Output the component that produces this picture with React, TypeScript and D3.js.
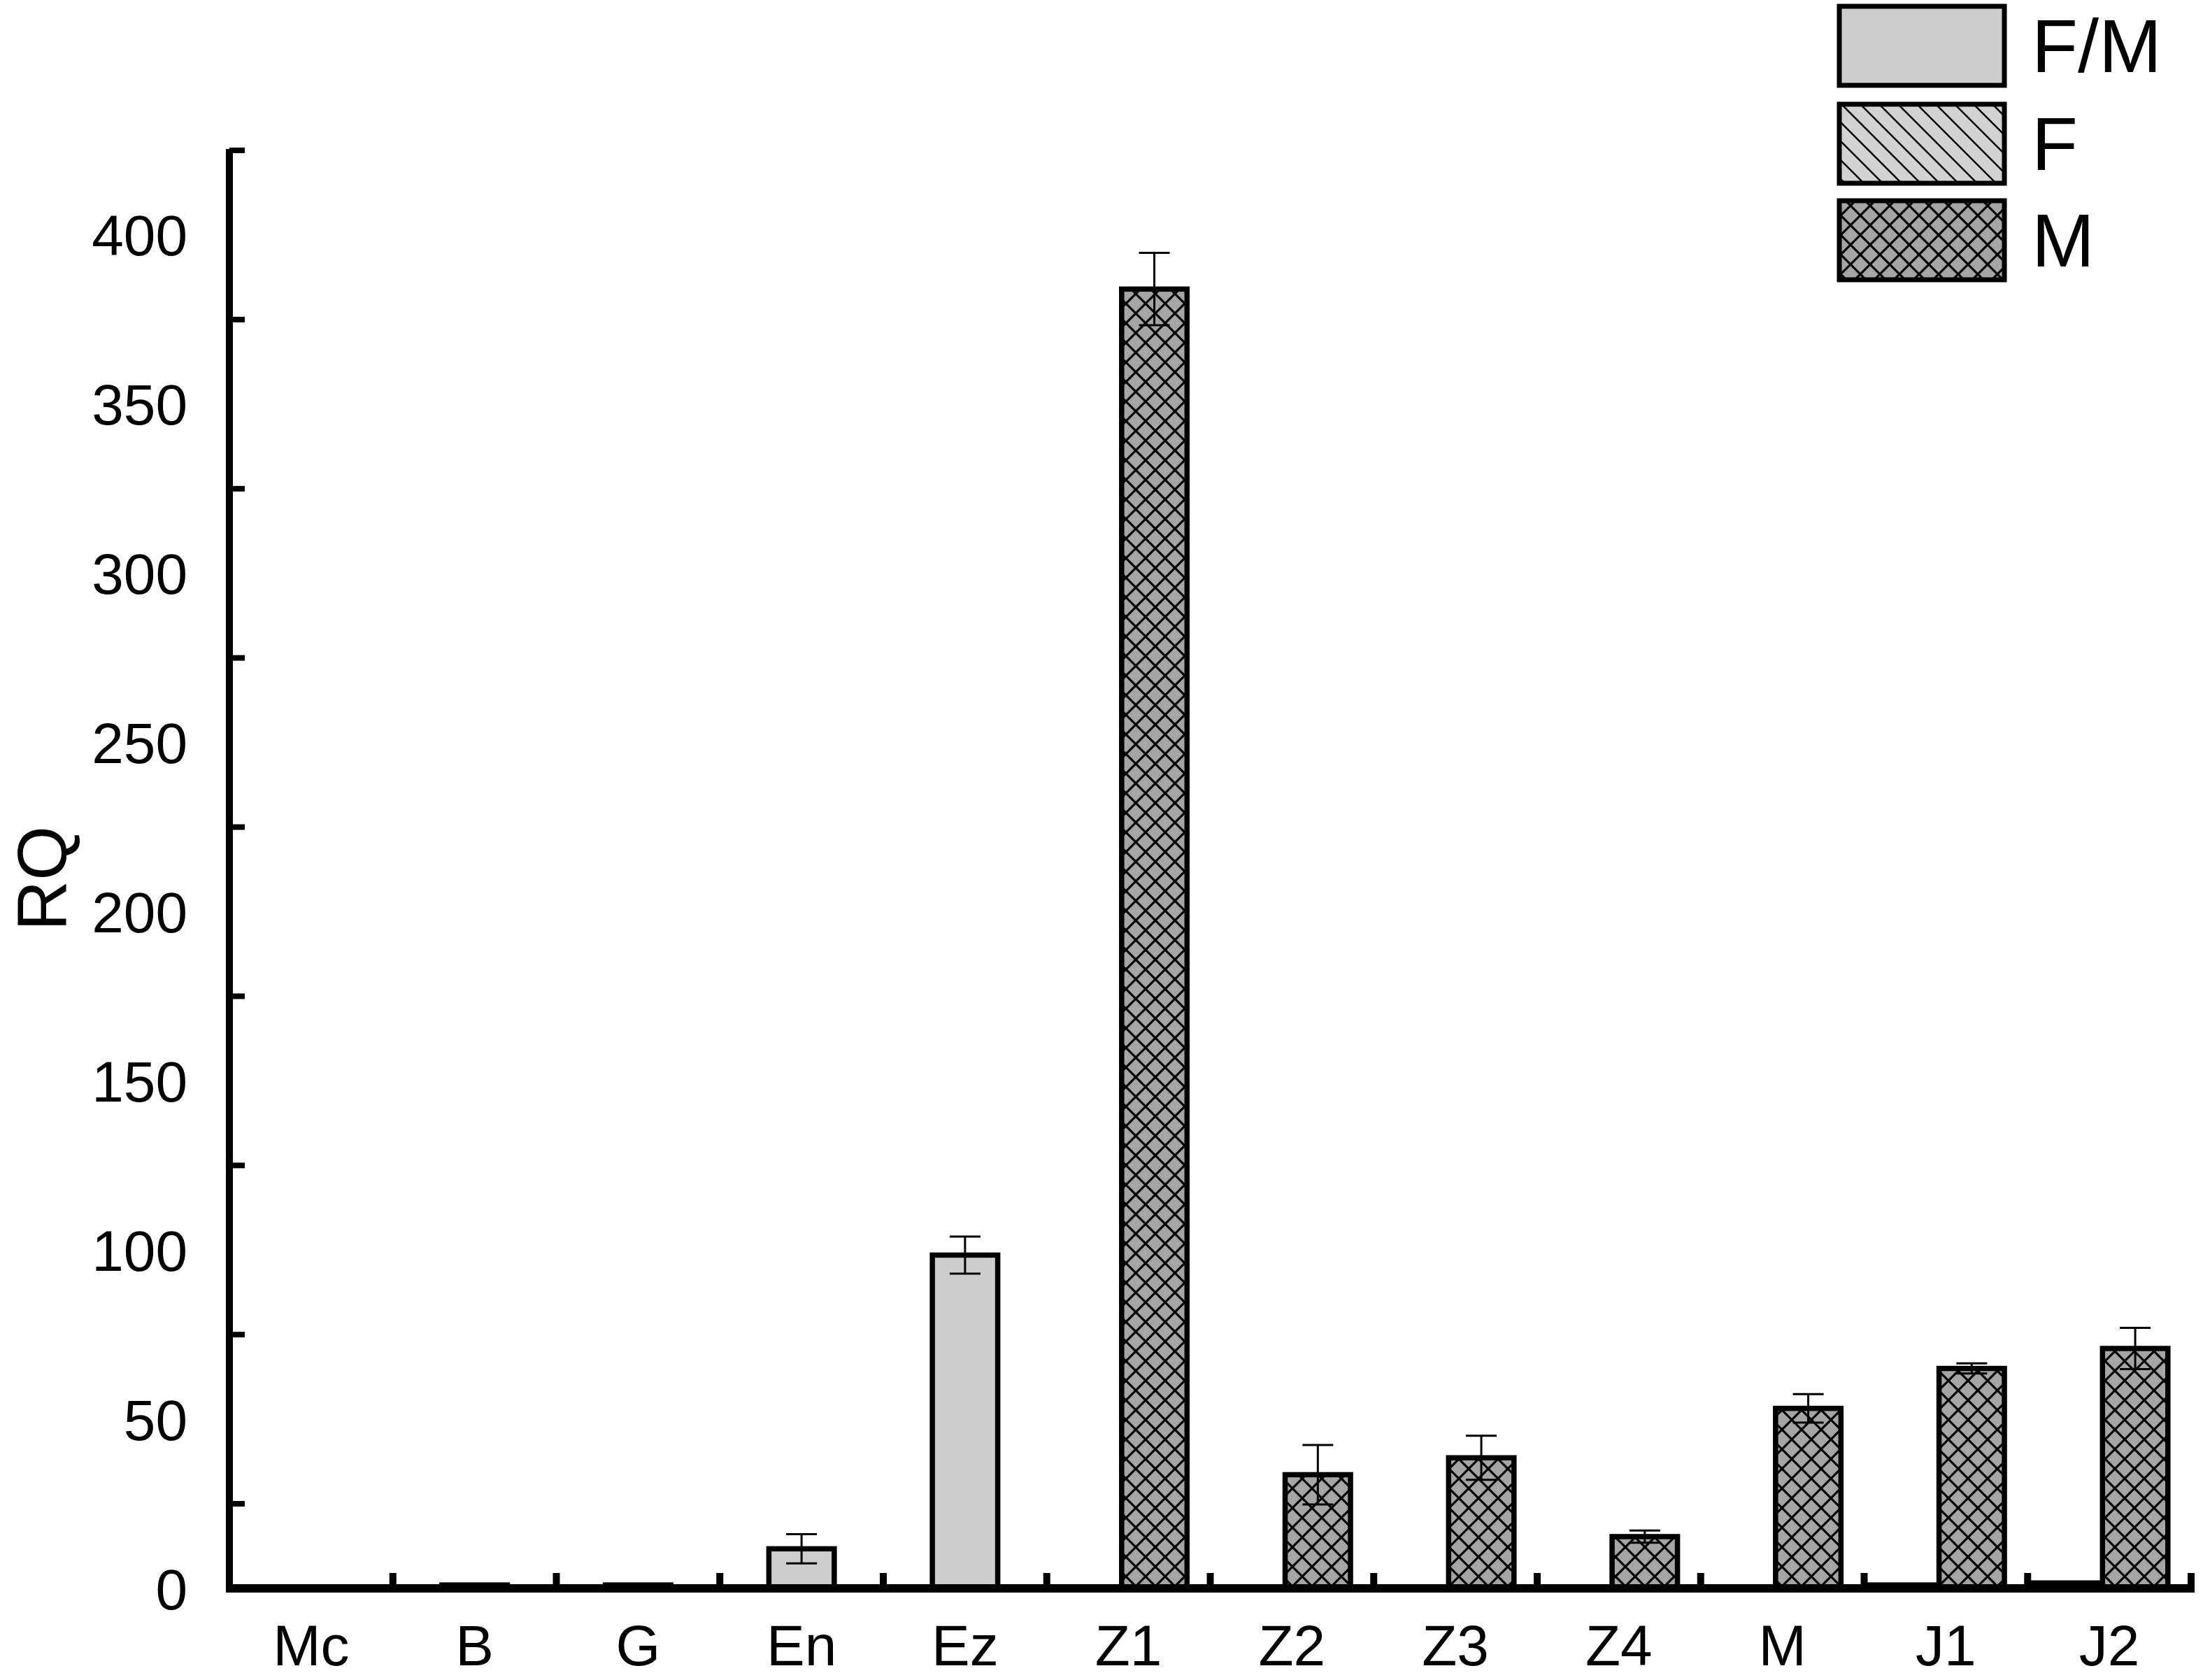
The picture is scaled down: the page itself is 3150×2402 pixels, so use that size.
import React, { useEffect } from "react";
import * as d3 from "d3";

const categories = ["Mc", "B", "G", "En", "Ez", "Z1", "Z2", "Z3", "Z4", "M", "J1", "J2"];
const fmValues: (number | null)[] = [null, 1.0, 1.0, 11.7, 98.5, null, null, null, null, null, null, null];
const fmErrors: (number | null)[] = [null, null, null, 4.3, 5.5, null, null, null, null, null, null, null];
const fValues: (number | null)[] = [null, null, null, null, null, null, null, null, null, null, 1.0, 1.6];
const mValues: (number | null)[] = [null, null, null, null, null, 384.0, 33.6, 38.6, 15.3, 53.2, 65.0, 70.9];
const mErrors: (number | null)[] = [null, null, null, null, null, 10.7, 8.8, 6.5, 1.8, 4.2, 1.5, 6.1];
const yTickValues = [25, 75, 125, 175, 225, 275, 325, 375, 425];
const yLabelValues = [0, 50, 100, 150, 200, 250, 300, 350, 400];
const legendLabels = ["F/M", "F", "M"];
const yTitle = "RQ";

const W = 3150;
const H = 2402;
const FONT = "'Liberation Sans', Arial, Helvetica, sans-serif";

export default function App() {
  useEffect(() => {
    document.body.style.margin = "0";
  }, []);

  const x0 = 328;
  const bandW = 233.75;
  const x = d3.scaleBand<string>().domain(categories).range([x0, x0 + bandW * categories.length]).paddingInner(0).paddingOuter(0);
  const y = d3.scaleLinear().domain([0, 425]).range([2271, 215]);
  const bw = x.bandwidth();
  const barW = bw * 0.4;
  const barStroke = 7.5;

  const series = [
    { key: "F/M", values: fmValues, errors: fmErrors, offset: 0, fill: "#cdcdcd" },
    { key: "F", values: fValues, errors: null as any, offset: -0.27, fill: "url(#hatchF)" },
    { key: "M", values: mValues, errors: mErrors, offset: 0.158, fill: "url(#hatchM)" },
  ];

  const bars: JSX.Element[] = [];
  const errs: JSX.Element[] = [];
  series.forEach((s) => {
    s.values.forEach((v, i) => {
      if (v == null) return;
      const cx = (x(categories[i]) as number) + bw / 2 + s.offset * bw;
      const top = y(v);
      bars.push(
        <rect key={s.key + i} x={cx - barW / 2} y={top} width={barW} height={y(0) - top}
          fill={s.fill} stroke="#000" strokeWidth={barStroke} />
      );
      const e = s.errors ? s.errors[i] : null;
      if (e != null) {
        const capW = 44;
        errs.push(
          <g key={"e" + s.key + i} stroke="#000" strokeWidth={3}>
            <line x1={cx} x2={cx} y1={y(v + e)} y2={y(v - e)} />
            <line x1={cx - capW / 2} x2={cx + capW / 2} y1={y(v + e)} y2={y(v + e)} />
            <line x1={cx - capW / 2} x2={cx + capW / 2} y1={y(v - e)} y2={y(v - e)} />
          </g>
        );
      }
    });
  });

  const xEnd = x0 + bandW * categories.length;
  const legendFills = ["#cdcdcd", "url(#hatchFL)", "url(#hatchML)"];
  const legendY = [6, 146, 284];

  return (
    <svg width={W} height={H} style={{ display: "block", background: "#fff" }} fontFamily={FONT}>
      <defs>
        <pattern id="hatchF" patternUnits="userSpaceOnUse" width={28} height={28}>
          <rect width={28} height={28} fill="#d2d2d2" />
          <path d="M-7,-7L35,35M-7,21L7,35M21,-7L35,7" stroke="#000" strokeWidth={2.5} />
        </pattern>
        <pattern id="hatchM" patternUnits="userSpaceOnUse" width={28} height={28}>
          <rect width={28} height={28} fill="#a5a5a5" />
          <path d="M-7,-7L35,35M-7,21L7,35M21,-7L35,7M-7,35L35,-7M-7,7L7,-7M21,35L35,21" stroke="#000" strokeWidth={3.2} />
        </pattern>
        <pattern id="hatchFL" patternUnits="userSpaceOnUse" width={27} height={27}>
          <rect width={27} height={27} fill="#d2d2d2" />
          <path d="M-7,-7L34,34M-7,20L7,34M20,-7L34,7" stroke="#000" strokeWidth={2.5} />
        </pattern>
        <pattern id="hatchML" patternUnits="userSpaceOnUse" width={28} height={28}>
          <rect width={28} height={28} fill="#a5a5a5" />
          <path d="M-7,-7L35,35M-7,21L7,35M21,-7L35,7M-7,35L35,-7M-7,7L7,-7M21,35L35,21" stroke="#000" strokeWidth={3.2} />
        </pattern>
      </defs>

      {bars}
      {errs}

      {/* Y axis */}
      <line x1={x0} x2={x0} y1={y(425) - 2} y2={y(0) + 6} stroke="#000" strokeWidth={10} />
      {yTickValues.map((t) => (
        <line key={"yt" + t} x1={x0} x2={350} y1={y(t)} y2={y(t)} stroke="#000" strokeWidth={8} />
      ))}
      {yLabelValues.map((t) => (
        <text key={"yl" + t} x={268} y={y(t)} dy="0.36em" textAnchor="end" fontSize={82} fill="#000">
          {t}
        </text>
      ))}

      {/* X axis */}
      <line x1={x0 - 5} x2={xEnd + 5} y1={y(0)} y2={y(0)} stroke="#000" strokeWidth={12} />
      {categories.map((c, i) => (
        <line key={"xt" + c} x1={x0 + bandW * (i + 1)} x2={x0 + bandW * (i + 1)} y1={y(0)} y2={y(0) - 22}
          stroke="#000" strokeWidth={10} />
      ))}
      {categories.map((c) => (
        <text key={"xl" + c} x={(x(c) as number) + bw / 2} y={2381} textAnchor="middle" fontSize={82} fill="#000">
          {c}
        </text>
      ))}

      {/* Y title */}
      <text transform={`translate(95,1256) rotate(-90)`} textAnchor="middle" fontSize={100} fill="#000">
        {yTitle}
      </text>

      {/* Legend */}
      {legendLabels.map((l, i) => (
        <g key={"lg" + l}>
          <rect x={2630} y={legendY[i] + 3} width={236} height={113} fill={legendFills[i]} stroke="#000" strokeWidth={7} />
          <text x={2905} y={legendY[i] + 97} fontSize={108} fill="#000">
            {l}
          </text>
        </g>
      ))}
    </svg>
  );
}
